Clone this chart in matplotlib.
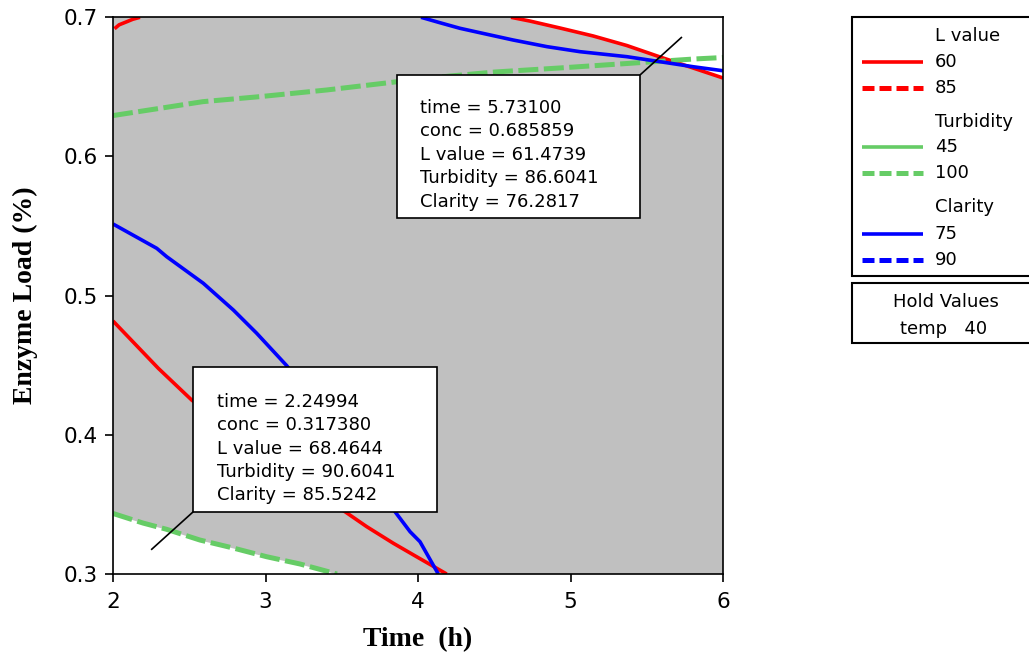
import matplotlib
matplotlib.use("Agg")
import matplotlib.pyplot as plt
from matplotlib.lines import Line2D
from matplotlib.patches import Rectangle

W, H, DPI = 1029, 654, 100

# ---- contour lines: (time in h, enzyme load in %) ----
# L value = 60, upper-left piece
lval60_a_time = [2.01, 2.04, 2.09, 2.13, 2.177]
lval60_a_load = [0.6918, 0.6946, 0.6968, 0.6986, 0.700]
# L value = 60, upper-right piece
lval60_b_time = [4.610, 4.734, 4.931, 5.148, 5.370, 5.587, 5.803, 6.000]
lval60_b_load = [0.7000, 0.6973, 0.6923, 0.6866, 0.6797, 0.6715, 0.6636, 0.6564]
# L value = 60, lower piece
lval60_c_time = [2.000, 2.297, 2.516, 3.016, 3.521, 3.664, 3.838, 3.991, 4.188]
lval60_c_load = [0.4818, 0.4478, 0.4250, 0.3833, 0.3448, 0.3340, 0.3221, 0.3124, 0.3000]

# Turbidity = 100, upper piece
turb100_a_time = [2.000, 2.308, 2.590, 2.964, 3.403, 3.862, 4.210, 4.505, 4.931, 5.370, 5.803, 6.000]
turb100_a_load = [0.6294, 0.6346, 0.6394, 0.6430, 0.6478, 0.6537, 0.6578, 0.6607, 0.6636, 0.6668, 0.6700, 0.6711]
# Turbidity = 100, lower piece
turb100_b_time = [2.000, 2.197, 2.352, 2.570, 2.787, 3.008, 3.226, 3.469]
turb100_b_load = [0.3435, 0.3366, 0.3321, 0.3244, 0.3187, 0.3124, 0.3072, 0.3000]

# Clarity = 75, upper-right piece
clar75_a_time = [4.020, 4.144, 4.275, 4.407, 4.623, 4.846, 5.062, 5.370, 5.587, 5.803, 6.000]
clar75_a_load = [0.7000, 0.6961, 0.6921, 0.6889, 0.6837, 0.6789, 0.6753, 0.6717, 0.6681, 0.6645, 0.6616]
# Clarity = 75, lower piece
clar75_b_time = [2.000, 2.287, 2.352, 2.592, 2.789, 2.942, 3.139, 3.502, 3.849, 3.948, 4.013, 4.133]
clar75_b_load = [0.5515, 0.5340, 0.5280, 0.5089, 0.4897, 0.4730, 0.4497, 0.3977, 0.3448, 0.3304, 0.3232, 0.3000]

# ---- legend content ----
resp_names = ["L value", "Turbidity", "Clarity"]
resp_levels = [(60, 85), (45, 100), (75, 90)]
resp_colors = ["#ff0000", "#66cc66", "#0000ff"]
hold_name, hold_value = "temp", 40

# ---- flagged points ----
pt_time = [2.24994, 5.73100]
pt_conc = [0.317380, 0.685859]
pt_lval = ["68.4644", "61.4739"]
pt_turb = ["90.6041", "86.6041"]
pt_clar = ["85.5242", "76.2817"]
pt_conc_txt = ["0.317380", "0.685859"]
pt_time_txt = ["2.24994", "5.73100"]

RED, GREEN, BLUE = resp_colors[0], resp_colors[1], resp_colors[2]
GREY = "#c0c0c0"

plt.rcParams["font.family"] = ["DejaVu Sans"]

fig = plt.figure(figsize=(W / DPI, H / DPI), dpi=DPI)
fig.patch.set_facecolor("white")

def fx(p):
    return p / W

def fy(p):
    return 1 - p / H

ax = fig.add_axes([fx(113), fy(574), (723 - 113) / W, (574 - 17.3) / H])
ax.set_facecolor(GREY)
ax.set_xlim(2, 6)
ax.set_ylim(0.3, 0.7)

# infeasible regions in white
ax.fill_between(lval60_b_time, lval60_b_load, 0.7, color="white", lw=0, zorder=1)
ax.fill_between(turb100_b_time, 0.3, turb100_b_load, color="white", lw=0, zorder=1)

solid = dict(lw=2.6, solid_capstyle="butt", zorder=2)
dashed = dict(lw=3.6, dashes=(4.0, 1.1), dash_capstyle="butt", zorder=2)

ax.plot(lval60_a_time, lval60_a_load, color=RED, **solid)
ax.plot(lval60_b_time, lval60_b_load, color=RED, **solid)
ax.plot(lval60_c_time, lval60_c_load, color=RED, **solid)
ax.plot(turb100_a_time, turb100_a_load, color=GREEN, **dashed)
ax.plot(turb100_b_time, turb100_b_load, color=GREEN, **dashed)
ax.plot(clar75_a_time, clar75_a_load, color=BLUE, **solid)
ax.plot(clar75_b_time, clar75_b_load, color=BLUE, **solid)

ax.set_xticks([2, 3, 4, 5, 6])
ax.set_yticks([0.3, 0.4, 0.5, 0.6, 0.7])
ax.set_xticklabels(["2", "3", "4", "5", "6"])
ax.set_yticklabels(["0.3", "0.4", "0.5", "0.6", "0.7"])
ax.tick_params(direction="out", length=6, width=1.2, labelsize=15.5, color="black")
ax.tick_params(axis="x", pad=7)
ax.tick_params(axis="y", pad=5)
for s in ax.spines.values():
    s.set_linewidth(1.2)

# point annotation boxes (box extents in axis units, corner used for the leader)
boxes = [
    (2.5266, 0.34476, 4.1226, 0.44895, "ll"),
    (3.8603, 0.55558, 5.4557, 0.65854, "ur"),
]
text_x = [2.680, 4.0131]
text_y0 = [0.42380, 0.63483]
dy = 23.4 / 1391.75
for i, (x0, y0, x1, y1, corner) in enumerate(boxes):
    cx, cy = (x0, y0) if corner == "ll" else (x1, y1)
    ax.plot([cx, pt_time[i]], [cy, pt_conc[i]], color="black", lw=1.2, zorder=3,
            solid_capstyle="butt")
    ax.add_patch(Rectangle((x0, y0), x1 - x0, y1 - y0, facecolor="white",
                           edgecolor="black", lw=1.2, zorder=4))
    lines = [f"time = {pt_time_txt[i]}", f"conc = {pt_conc_txt[i]}",
             f"L value = {pt_lval[i]}", f"Turbidity = {pt_turb[i]}",
             f"Clarity = {pt_clar[i]}"]
    for k, t in enumerate(lines):
        ax.text(text_x[i], text_y0[i] - k * dy, t, fontsize=13, va="center",
                ha="left", zorder=5)

# axis titles
fig.text(fx(418), fy(646.5), "Time  (h)", ha="center", va="baseline",
         fontsize=20, fontweight="bold", family="Liberation Serif")
fig.text(fx(25), fy(295), "Enzyme Load (%)", ha="center", va="center",
         rotation=90, fontsize=20, fontweight="bold", family="Liberation Serif")

# legend panel
fig.add_artist(Rectangle((fx(851.7), fy(276)), fx(1040 - 851.7), (276 - 17.3) / H,
                         transform=fig.transFigure, facecolor="white",
                         edgecolor="black", lw=1.5))
row_y = [36, 61.7, 88.3, 121.7, 146.7, 173.3, 206.7, 234, 260]
r = 0
for name, lev, col in zip(resp_names, resp_levels, resp_colors):
    fig.text(fx(935), fy(row_y[r]), name, fontsize=13, va="center", ha="left")
    r += 1
    for j, v in enumerate(lev):
        style = dict(lw=2.6, solid_capstyle="butt") if j == 0 else \
            dict(lw=3.6, dashes=(2.4, 1.0), dash_capstyle="butt")
        fig.add_artist(Line2D([fx(862), fx(923)], [fy(row_y[r])] * 2,
                              transform=fig.transFigure, color=col, **style))
        fig.text(fx(935), fy(row_y[r]), str(v), fontsize=13, va="center", ha="left")
        r += 1

fig.add_artist(Rectangle((fx(851.7), fy(342.7)), fx(1040 - 851.7), (342.7 - 283.3) / H,
                         transform=fig.transFigure, facecolor="white",
                         edgecolor="black", lw=1.5))
fig.text(fx(946), fy(301.7), "Hold Values", fontsize=13, va="center", ha="center")
fig.text(fx(944), fy(329.3), f"{hold_name}   {hold_value}", fontsize=13,
         va="center", ha="center")

fig.savefig("out.png", dpi=DPI)
